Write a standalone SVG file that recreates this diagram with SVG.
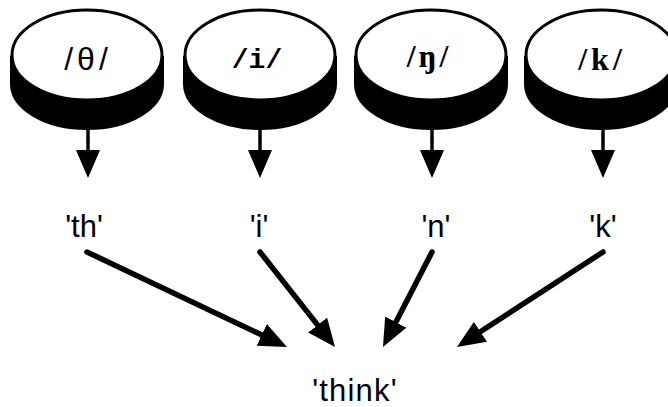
<svg xmlns="http://www.w3.org/2000/svg" width="668" height="407" viewBox="0 0 668 407">
<style>
.side{fill:#000;stroke:#000;stroke-width:2}
.top{fill:#fff;stroke:#000;stroke-width:3}
.lbl{font-family:"Liberation Sans",Arial,sans-serif;font-size:31px;fill:#000;text-anchor:middle}
.ph{font-size:32px;fill:#000;text-anchor:middle}
.conn line{stroke:#000;stroke-linecap:round;fill:none}
.v{stroke-width:3.5}
.d{stroke-width:5.5}
</style>
<defs>
<marker id="ah" markerUnits="userSpaceOnUse" markerWidth="30" markerHeight="26" refX="2" refY="12" orient="auto">
<path d="M0,0 L28,12 L0,24 Z" fill="#000"/>
</marker>
</defs>
<g id="disc-theta">
<path class="side" d="M11,57 L11,84 A76,45 0 0 0 163,84 L163,57 Z"/>
<ellipse class="top" cx="87" cy="55" rx="75" ry="45"/>
<text class="ph" x="88" y="70" style="font-family:'Liberation Sans',Arial,sans-serif;letter-spacing:4px">/θ/</text>
</g>
<g id="disc-i">
<path class="side" d="M184,57 L184,84 A76,45 0 0 0 336,84 L336,57 Z"/>
<ellipse class="top" cx="260" cy="55" rx="75" ry="45"/>
<text class="ph" x="257" y="68" style="font-family:'Liberation Mono','Courier New',monospace;font-weight:bold;font-size:28px">/i/</text>
</g>
<g id="disc-eng">
<path class="side" d="M355,57 L355,84 A76,45 0 0 0 507,84 L507,57 Z"/>
<ellipse class="top" cx="431" cy="55" rx="75" ry="45"/>
<text class="ph" x="429" y="67" style="font-family:'Liberation Serif','Times New Roman',serif;font-weight:bold;letter-spacing:3px">/ŋ/</text>
</g>
<g id="disc-k">
<path class="side" d="M525,57 L525,84 A76,45 0 0 0 677,84 L677,57 Z"/>
<ellipse class="top" cx="601" cy="55" rx="75" ry="45"/>
<text class="ph" x="602" y="70" style="font-family:'Liberation Serif','Times New Roman',serif;font-weight:bold;letter-spacing:4px">/k/</text>
</g>
<g id="label-th"><text class="lbl" x="84" y="237">'th'</text></g>
<g id="label-i"><text class="lbl" x="259" y="237">'i'</text></g>
<g id="label-n"><text class="lbl" x="436" y="237">'n'</text></g>
<g id="label-k"><text class="lbl" x="603" y="237">'k'</text></g>
<g id="label-think"><text class="lbl" x="355" y="401" style="letter-spacing:1.2px">'think'</text></g>
<g id="connectors" class="conn">
<line class="v" x1="88" y1="128" x2="88" y2="152" marker-end="url(#ah)"/>
<line class="v" x1="260" y1="128" x2="260" y2="152" marker-end="url(#ah)"/>
<line class="v" x1="432" y1="128" x2="432" y2="152" marker-end="url(#ah)"/>
<line class="v" x1="603" y1="128" x2="603" y2="152" marker-end="url(#ah)"/>
<line class="d" x1="87" y1="252" x2="263.5" y2="335.8" marker-end="url(#ah)"/>
<line class="d" x1="260" y1="252" x2="318.9" y2="326.6" marker-end="url(#ah)"/>
<line class="d" x1="432" y1="252" x2="394.9" y2="323.9" marker-end="url(#ah)"/>
<line class="d" x1="603" y1="252" x2="478.8" y2="332.8" marker-end="url(#ah)"/>
</g>
</svg>
